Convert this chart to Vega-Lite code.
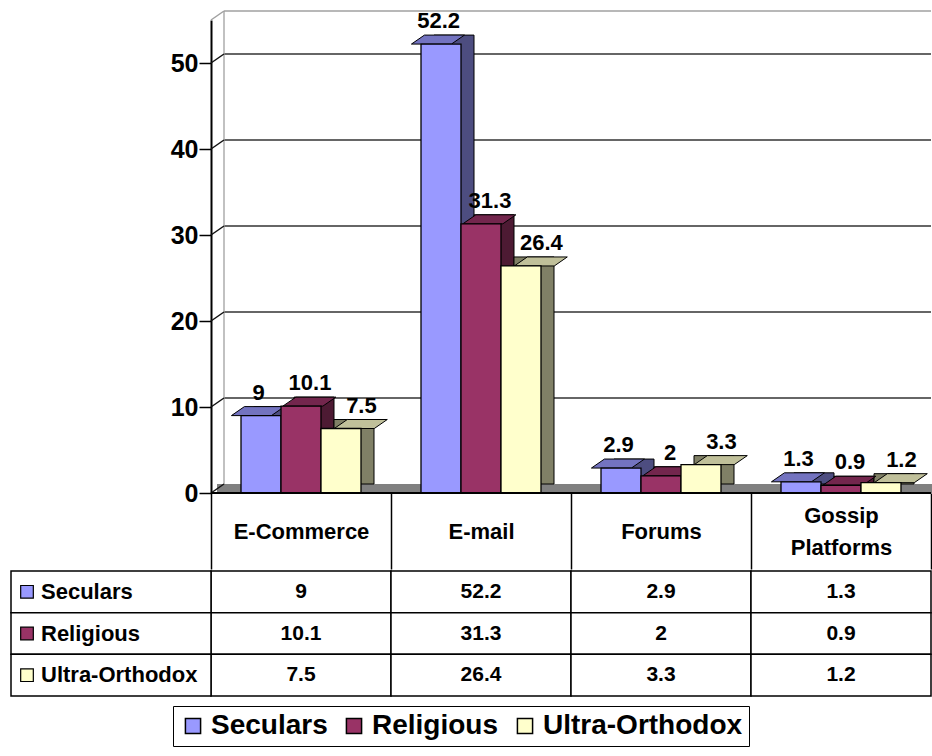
{
  "$schema": "https://vega.github.io/schema/vega-lite/v6.json",
  "padding": {"left": 10, "top": 8, "right": 1, "bottom": 4},
  "spacing": 0,
  "config": {"font": "Liberation Sans", "view": {"stroke": null}},
  "datasets": {
    "bars": [
      {"category": "E-Commerce", "series": "Seculars", "value": 9},
      {"category": "E-Commerce", "series": "Religious", "value": 10.1},
      {"category": "E-Commerce", "series": "Ultra-Orthodox", "value": 7.5},
      {"category": "E-mail", "series": "Seculars", "value": 52.2},
      {"category": "E-mail", "series": "Religious", "value": 31.3},
      {"category": "E-mail", "series": "Ultra-Orthodox", "value": 26.4},
      {"category": "Forums", "series": "Seculars", "value": 2.9},
      {"category": "Forums", "series": "Religious", "value": 2},
      {"category": "Forums", "series": "Ultra-Orthodox", "value": 3.3},
      {"category": "Gossip Platforms", "series": "Seculars", "value": 1.3},
      {"category": "Gossip Platforms", "series": "Religious", "value": 0.9},
      {"category": "Gossip Platforms", "series": "Ultra-Orthodox", "value": 1.2}
    ],
    "grid": [
      {"v": 0, "kind": "floor"},
      {"v": 10, "kind": "grid"},
      {"v": 20, "kind": "grid"},
      {"v": 30, "kind": "grid"},
      {"v": 40, "kind": "grid"},
      {"v": 50, "kind": "grid"},
      {"v": 55, "kind": "top"}
    ]
  },
  "vconcat": [
    {
      "width": 920,
      "height": 473,
      "resolve": {"scale": {"xOffset": "independent"}},
      "layer": [
        {
          "data": {"name": "bars"},
          "transform": [{"filter": "datum.series == 'Seculars'"}],
          "mark": {"type": "bar", "color": "#808080", "yOffset": -9, "xOffset": 6},
          "encoding": {
            "x": {"field": "category", "type": "nominal", "scale": {"type": "band", "domain": ["E-Commerce", "E-mail", "Forums", "Gossip Platforms"], "paddingInner": 0, "paddingOuter": 0.5555556, "align": 1}},
            "y": {"datum": 0, "type": "quantitative", "scale": {"domain": [0, 55], "nice": false}},
            "y2": {"datum": 0}
          }
        },
        {
          "data": {"name": "grid"},
          "transform": [{"filter": "datum.kind != 'floor'"}],
          "mark": {"type": "rule", "xOffset": 13, "yOffset": -9, "strokeWidth": 1.3},
          "encoding": {
            "x": {"datum": "E-Commerce", "type": "nominal", "bandPosition": 0},
            "x2": {"value": "width"},
            "y": {"field": "v", "type": "quantitative"},
            "color": {"condition": {"test": "datum.kind == 'top'", "value": "#a0a0a0"}, "value": "#333333"}
          }
        },
        {
          "data": {"values": [{"lo": 0, "hi": 55}]},
          "mark": {"type": "rule", "xOffset": 13, "yOffset": -9, "y2Offset": -9, "color": "#a0a0a0", "strokeWidth": 1.3},
          "encoding": {
            "x": {"datum": "E-Commerce", "type": "nominal", "bandPosition": 0},
            "y": {"field": "lo", "type": "quantitative"},
            "y2": {"field": "hi"}
          }
        },
        {
          "data": {"name": "grid"},
          "mark": {"type": "point", "shape": "M -1 0.6923 L 1 -0.6923", "size": 169, "filled": false, "opacity": 1, "strokeWidth": 1.5, "xOffset": 6.5, "yOffset": -4.5},
          "encoding": {
            "x": {"datum": "E-Commerce", "type": "nominal", "bandPosition": 0},
            "y": {"field": "v", "type": "quantitative"},
            "stroke": {"condition": {"test": "datum.kind == 'top'", "value": "#a0a0a0"}, "value": "#111111"}
          }
        },
        {
          "data": {"name": "bars"},
          "mark": {"type": "bar", "yOffset": -9, "y2Offset": -9, "stroke": "black", "strokeWidth": 1},
          "encoding": {
            "x": {"field": "category", "type": "nominal"},
            "xOffset": {"field": "series", "type": "nominal", "scale": {"domain": ["Seculars", "Religious", "Ultra-Orthodox"], "paddingInner": 0, "paddingOuter": 0.75, "align": 0.7167}},
            "y": {"field": "value", "type": "quantitative"},
            "color": {
              "condition": [
                {"test": "datum.series == 'Seculars'", "value": "#4D4D80"},
                {"test": "datum.series == 'Religious'", "value": "#4D1A33"}
              ],
              "value": "#808066"
            }
          }
        },
        {
          "data": {"name": "bars"},
          "mark": {"type": "point", "shape": "M -1 0.1698 L 0.5094 0.1698 L 1 -0.1698 L -0.5094 -0.1698 Z", "size": 2809, "filled": true, "opacity": 1, "stroke": "black", "strokeWidth": 1, "yOffset": -4.5},
          "encoding": {
            "x": {"field": "category", "type": "nominal"},
            "xOffset": {"field": "series", "type": "nominal", "scale": {"domain": ["Seculars", "Religious", "Ultra-Orthodox"], "paddingInner": 0, "paddingOuter": 0.75, "align": 0.6083}},
            "y": {"field": "value", "type": "quantitative"},
            "fill": {
              "condition": [
                {"test": "datum.series == 'Seculars'", "value": "#7373C0"},
                {"test": "datum.series == 'Religious'", "value": "#73264D"}
              ],
              "value": "#C0C09A"
            }
          }
        },
        {
          "data": {"name": "bars"},
          "mark": {"type": "bar", "stroke": "black", "strokeWidth": 1.3},
          "encoding": {
            "x": {
              "field": "category", "type": "nominal",
              "axis": {
                "title": null, "orient": "bottom", "domain": false, "tickBand": "extent", "tickSize": 76, "tickColor": "black", "tickWidth": 1.5,
                "labelFontSize": 22, "labelFontWeight": "bold", "labelColor": "black",
                "labelPadding": {"condition": {"test": "datum.value == 'Gossip Platforms'", "value": -54}, "value": -38},
                "labelAlign": "center", "labelBaseline": "middle", "labelAngle": 0, "labelLineHeight": 32,
                "labelExpr": "datum.value == 'Gossip Platforms' ? ['Gossip', 'Platforms'] : datum.value",
                "minExtent": 76, "maxExtent": 76, "labelOverlap": false
              }
            },
            "xOffset": {"field": "series", "type": "nominal", "scale": {"domain": ["Seculars", "Religious", "Ultra-Orthodox"], "paddingInner": 0, "paddingOuter": 0.75, "align": 0.5}},
            "y": {
              "field": "value", "type": "quantitative",
              "axis": {
                "title": null, "values": [0, 10, 20, 30, 40, 50], "grid": false, "offset": -200, "labelFontSize": 25, "labelFontWeight": "bold",
                "labelColor": "black", "tickColor": "black", "tickSize": 12, "tickWidth": 1.5, "domainColor": "black", "domainWidth": 2,
                "labelPadding": 1
              }
            },
            "color": {
              "field": "series", "type": "nominal",
              "scale": {"domain": ["Seculars", "Religious", "Ultra-Orthodox"], "range": ["#9999FF", "#993366", "#FFFFCC"]},
              "legend": {
                "orient": "none", "legendX": 162, "legendY": 686, "direction": "horizontal", "title": null, "labelFontSize": 28, "labelFontWeight": "bold",
                "labelColor": "black", "symbolType": "square", "symbolSize": 230, "symbolStrokeColor": "black", "symbolStrokeWidth": 1.5,
                "symbolOpacity": 1, "strokeColor": "black", "padding": 6, "columnPadding": 12, "labelOffset": 4, "labelLimit": 300
              }
            }
          }
        },
        {
          "data": {"values": [{"base": 0}]},
          "mark": {"type": "rule", "color": "black", "strokeWidth": 2},
          "encoding": {
            "x": {"datum": "E-Commerce", "type": "nominal", "bandPosition": 0},
            "x2": {"value": "width"},
            "y": {"field": "base", "type": "quantitative"}
          }
        },
        {
          "data": {"name": "bars"},
          "mark": {"type": "text", "dx": 9, "dy": -16, "baseline": "alphabetic", "fontSize": 22, "fontWeight": "bold", "color": "black"},
          "encoding": {
            "x": {"field": "category", "type": "nominal"},
            "xOffset": {"field": "series", "type": "nominal", "scale": {"domain": ["Seculars", "Religious", "Ultra-Orthodox"], "paddingInner": 0, "paddingOuter": 0.75, "align": 0.5}},
            "y": {"field": "value", "type": "quantitative"},
            "text": {"field": "value", "type": "quantitative"}
          }
        }
      ]
    },
    {
      "width": 920,
      "height": 125,
      "data": {"name": "bars"},
      "layer": [
        {
          "mark": {"type": "rect", "fill": "white", "stroke": "black", "strokeWidth": 1.5},
          "encoding": {
            "x": {"field": "category", "type": "nominal", "axis": null, "scale": {"type": "band", "domain": ["E-Commerce", "E-mail", "Forums", "Gossip Platforms"], "paddingInner": 0, "paddingOuter": 0.5555556, "align": 1}},
            "y": {"field": "series", "type": "nominal", "axis": null, "scale": {"type": "band", "domain": ["Seculars", "Religious", "Ultra-Orthodox"], "paddingInner": 0, "paddingOuter": 0}}
          }
        },
        {
          "mark": {"type": "text", "fontSize": 21, "fontWeight": "bold", "color": "black"},
          "encoding": {
            "x": {"field": "category", "type": "nominal", "axis": null, "scale": {"type": "band", "domain": ["E-Commerce", "E-mail", "Forums", "Gossip Platforms"], "paddingInner": 0, "paddingOuter": 0.5555556, "align": 1}},
            "y": {"field": "series", "type": "nominal", "axis": null},
            "text": {"field": "value", "type": "quantitative"}
          }
        },
        {
          "transform": [{"filter": "datum.category == 'E-Commerce'"}],
          "mark": {"type": "rect", "fill": "white", "stroke": "black", "strokeWidth": 1.5},
          "encoding": {
            "x": {"datum": "label", "type": "nominal", "axis": null, "scale": {"type": "band", "domain": ["label", "c2", "c3", "c4"], "paddingInner": 0, "paddingOuter": 0.3, "align": 0}},
            "y": {"field": "series", "type": "nominal", "axis": null}
          }
        },
        {
          "transform": [{"filter": "datum.category == 'E-Commerce'"}],
          "mark": {"type": "point", "shape": "square", "size": 160, "filled": true, "opacity": 1, "stroke": "black", "strokeWidth": 1.2, "xOffset": 16},
          "encoding": {
            "x": {"datum": "label", "type": "nominal", "bandPosition": 0, "axis": null, "scale": {"type": "band", "domain": ["label", "c2", "c3", "c4"], "paddingInner": 0, "paddingOuter": 0.3, "align": 0}},
            "y": {"field": "series", "type": "nominal", "axis": null},
            "color": {"field": "series", "type": "nominal"}
          }
        },
        {
          "transform": [{"filter": "datum.category == 'E-Commerce'"}],
          "mark": {"type": "text", "align": "left", "xOffset": 30, "fontSize": 22, "fontWeight": "bold", "color": "black"},
          "encoding": {
            "x": {"datum": "label", "type": "nominal", "bandPosition": 0, "axis": null, "scale": {"type": "band", "domain": ["label", "c2", "c3", "c4"], "paddingInner": 0, "paddingOuter": 0.3, "align": 0}},
            "y": {"field": "series", "type": "nominal", "axis": null},
            "text": {"field": "series"}
          }
        }
      ],
      "resolve": {"scale": {"x": "independent"}}
    }
  ]
}
